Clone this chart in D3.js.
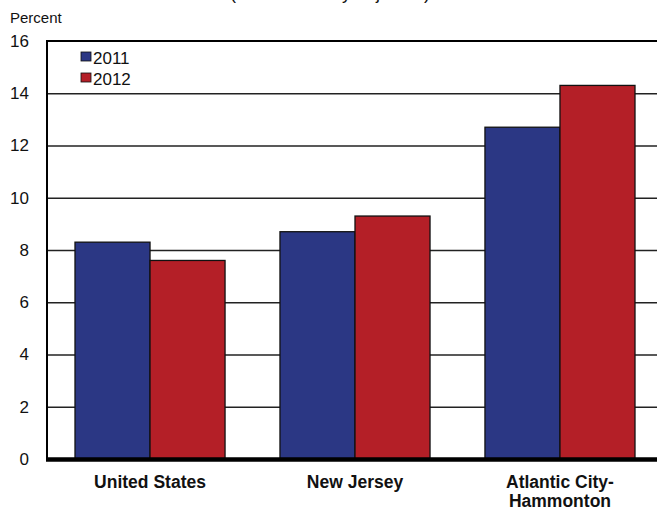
<!DOCTYPE html>
<html>
<head>
<meta charset="utf-8">
<script src="https://cdn.jsdelivr.net/npm/d3@7"></script>
<style>
  html, body { margin: 0; padding: 0; background: #fff; }
  svg { display: block; font-family: "Liberation Sans", Arial, sans-serif; }
</style>
</head>
<body>
<svg id="chart" width="657" height="510"></svg>
<script>
const categories = ["United States", "New Jersey", "Atlantic City-\nHammonton"];
const seriesNames = ["2011", "2012"];
const values2011 = [8.3, 8.7, 12.7];
const values2012 = [7.6, 9.3, 14.3];
const yTicks = [0, 2, 4, 6, 8, 10, 12, 14, 16];
const seriesColors = ["#2b3784", "#b41f27"];

(function () {
const svg = d3.select("#chart");
const plotLeft = 47, plotRight = 663, plotTop = 41, plotBottom = 459;

const y = d3.scaleLinear().domain([0, 16]).range([plotBottom, plotTop]);
const x0 = d3.scaleBand().domain(categories).range([plotLeft, plotRight])
  .paddingInner(0.268).paddingOuter(0.1366);
const x1 = d3.scaleBand().domain(seriesNames).range([0, x0.bandwidth()]);

const data = categories.map((c, i) => ({ cat: c, vals: [values2011[i], values2012[i]] }));

// partially visible subtitle (cut at top)
svg.append("text").attr("x", 330).attr("y", -1).attr("text-anchor", "middle")
  .attr("font-size", 18).attr("fill", "#111").text("(not seasonally adjusted)");

svg.append("text").attr("x", 10).attr("y", 23).attr("font-size", 15).attr("fill", "#111").text("Percent");

// gridlines
const grid = svg.append("g").attr("transform", `translate(${plotLeft},0)`)
  .call(d3.axisLeft(y).tickValues(yTicks.filter(d => d > 0 && d < 16)).tickSize(-(657 - plotLeft)).tickFormat(""));
grid.select(".domain").remove();
grid.selectAll("line").attr("stroke", "#222").attr("stroke-width", 1.6);

// top border
svg.append("line").attr("x1", plotLeft).attr("x2", 657).attr("y1", y(16)).attr("y2", y(16))
  .attr("stroke", "#000").attr("stroke-width", 2.2);

// y tick labels
const yAxis = svg.append("g").attr("transform", `translate(29,0)`)
  .call(d3.axisLeft(y).tickValues(yTicks).tickSize(0).tickPadding(0).tickFormat(d3.format("d")));
yAxis.select(".domain").remove();
yAxis.selectAll("text").attr("font-size", 17).attr("fill", "#111")
  .attr("font-family", "'Liberation Sans', Arial, sans-serif");

// bars
const groups = svg.append("g").selectAll("g").data(data).join("g")
  .attr("transform", d => `translate(${x0(d.cat)},0)`);
groups.selectAll("rect").data(d => d.vals.map((v, i) => ({ v, s: seriesNames[i], i }))).join("rect")
  .attr("x", d => x1(d.s))
  .attr("y", d => y(d.v))
  .attr("width", x1.bandwidth())
  .attr("height", d => y(0) - y(d.v))
  .attr("fill", d => seriesColors[d.i])
  .attr("stroke", "#111").attr("stroke-width", 1.3);

// left axis line
svg.append("line").attr("x1", plotLeft).attr("x2", plotLeft).attr("y1", y(16) - 1).attr("y2", y(0))
  .attr("stroke", "#000").attr("stroke-width", 2);

// bottom axis thick
svg.append("line").attr("x1", plotLeft - 1).attr("x2", 657).attr("y1", y(0) + 0.5).attr("y2", y(0) + 0.5)
  .attr("stroke", "#000").attr("stroke-width", 4.5);

// category labels
const catLabels = svg.append("g").selectAll("text").data(categories).join("text")
  .attr("x", d => x0(d) + x0.bandwidth() / 2)
  .attr("y", 488)
  .attr("text-anchor", "middle").attr("font-size", 17.5).attr("font-weight", "bold").attr("fill", "#111");
catLabels.each(function(d) {
  const lines = d.split("\n");
  d3.select(this).selectAll("tspan").data(lines).join("tspan")
    .attr("x", x0(d) + x0.bandwidth() / 2)
    .attr("dy", (l, i) => i === 0 ? 0 : 19)
    .text(l => l);
});

// legend
const legend = svg.append("g");
seriesNames.forEach((s, i) => {
  const yy = 52 + i * 21;
  legend.append("rect").attr("x", 81).attr("y", yy).attr("width", 10).attr("height", 9)
    .attr("fill", seriesColors[i]).attr("stroke", "#111").attr("stroke-width", 0.8);
  legend.append("text").attr("x", 93).attr("y", yy + 12).attr("font-size", 17).attr("fill", "#111").text(s);
});
})();
</script>
</body>
</html>
